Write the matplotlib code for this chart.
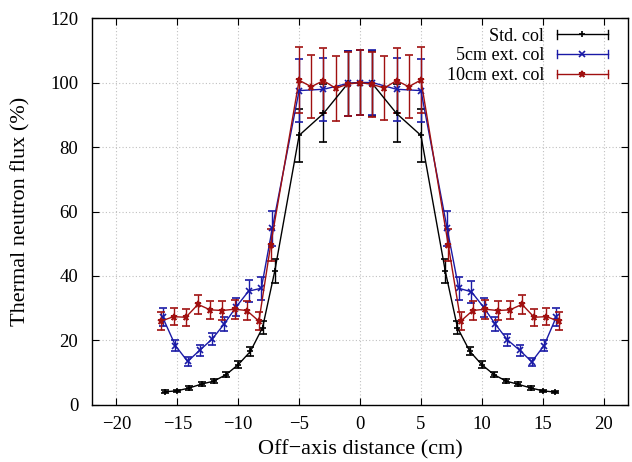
import numpy as np
import matplotlib
matplotlib.use("Agg")
import matplotlib.pyplot as plt
from matplotlib.legend_handler import HandlerBase
from matplotlib.lines import Line2D

plt.rcParams['font.family'] = ['Liberation Serif', 'DejaVu Serif']
plt.rcParams['mathtext.fontset'] = 'stix'

# ---- data ----
x_std = [-16, -15, -14, -13, -12, -11, -10, -9, -8, -7, -5, -3, -1, 0, 1, 3, 5,
         7, 8, 9, 10, 11, 12, 13, 14, 15, 16]
y_std = [4.1, 4.4, 5.3, 6.5, 7.4, 9.4, 12.5, 16.6, 24.0, 41.5, 83.6, 90.4, 99.7, 100.0,
         99.7, 90.4, 83.6, 41.5, 24.0, 16.7, 12.5, 9.4, 7.4, 6.4, 5.3, 4.4, 4.0]
e_std = [0.4, 0.4, 0.5, 0.6, 0.7, 0.8, 1.0, 1.3, 2.0, 3.8, 8.2, 9.0, 10.0, 10.0,
         10.0, 9.0, 8.2, 3.8, 2.0, 1.3, 1.0, 0.8, 0.7, 0.6, 0.5, 0.4, 0.4]

x_5cm = [-16.2, -15.15, -14.15, -13.15, -12.15, -11.15, -10.15, -9.15, -8.1, -7.2,
         -5, -3, -1, 0, 1, 3, 5,
         7.15, 8.1, 9.15, 10.15, 11.1, 12.1, 13.1, 14.1, 15.1, 16.1]
y_5cm = [27.2, 18.4, 13.5, 17.0, 20.4, 25.1, 30.5, 35.3, 36.2, 54.8,
         97.5, 97.9, 99.7, 100.0, 100.0, 97.9, 97.5,
         54.8, 36.2, 35.1, 30.3, 25.1, 20.2, 17.0, 13.4, 18.4, 27.2]
e_5cm = [2.8, 1.6, 1.3, 1.7, 1.8, 2.3, 2.8, 3.4, 3.6, 5.5,
         9.7, 9.8, 10.0, 10.0, 10.0, 9.8, 9.7,
         5.5, 3.6, 3.5, 3.0, 2.3, 1.8, 1.7, 1.3, 1.8, 2.8]

x_10cm = [-16.35, -15.3, -14.3, -13.3, -12.3, -11.3, -10.3, -9.3, -8.3, -7.34,
          -5, -4, -3, -2, -1, 0, 1, 2, 3, 4, 5,
          7.25, 8.27, 9.25, 10.26, 11.3, 12.3, 13.3, 14.3, 15.3, 16.3]
y_10cm = [26.0, 27.4, 27.2, 31.2, 29.5, 29.3, 29.7, 29.3, 26.0, 49.5,
          100.7, 98.7, 100.6, 98.2, 99.5, 100.0, 99.4, 98.3, 100.6, 98.7, 100.8,
          49.5, 26.0, 29.3, 29.7, 29.3, 29.5, 31.2, 27.2, 27.4, 26.0]
e_10cm = [2.7, 2.7, 2.7, 3.0, 2.8, 2.8, 3.0, 2.8, 2.8, 5.0,
          10.3, 9.8, 10.0, 10.0, 10.0, 10.0, 10.0, 10.0, 10.0, 9.8, 10.3,
          5.0, 2.8, 2.8, 3.0, 2.8, 2.8, 3.0, 2.7, 2.7, 2.7]

labels = ['Std. col', '5cm ext. col', '10cm ext. col']
colors = ['#000000', '#1a1aa6', '#a01010']
markers = ['+', 'x', '*']

fig = plt.figure(figsize=(6.32, 4.62), dpi=100)
ax = fig.add_axes([0.1456, 0.1234, 0.8481, 0.8376])

series = [(x_std, y_std, e_std), (x_5cm, y_5cm, e_5cm), (x_10cm, y_10cm, e_10cm)]
for (xs, ys, es), c, m in zip(series, colors, markers):
    ax.errorbar(xs, ys, yerr=es, color=c, marker=m, markersize=5, lw=1.0,
                elinewidth=1.0, capsize=3, capthick=1.0, mew=1.2, zorder=3)


class HandlerGnuplot(HandlerBase):
    def __init__(self, color, marker):
        super().__init__()
        self.color = color
        self.marker = marker

    def create_artists(self, legend, orig_handle, xdescent, ydescent, width, height,
                       fontsize, trans):
        y = height / 2 - ydescent
        x0 = -xdescent
        x1 = -xdescent + width
        cap = 3.0
        line = Line2D([x0, x1], [y, y], color=self.color, lw=1.0, transform=trans)
        c1 = Line2D([x0, x0], [y - cap, y + cap], color=self.color, lw=1.0, transform=trans)
        c2 = Line2D([x1, x1], [y - cap, y + cap], color=self.color, lw=1.0, transform=trans)
        mk = Line2D([(x0 + x1) / 2], [y], color=self.color, marker=self.marker,
                    markersize=5, mew=1.2, ls='none', transform=trans)
        return [line, c1, c2, mk]


handles = [Line2D([], [], color=c) for c in colors]
hmap = {h: HandlerGnuplot(c, m) for h, c, m in zip(handles, colors, markers)}
ax.legend(handles, labels, handler_map=hmap, loc='upper right', frameon=False,
          markerfirst=False, fontsize=13, handlelength=2.85, handletextpad=0.7,
          labelspacing=0.15, borderpad=0, borderaxespad=0,
          bbox_to_anchor=(0.963, 0.975))

ax.set_xlim(-22, 22)
ax.set_ylim(0, 120)
ax.set_xticks([-20, -15, -10, -5, 0, 5, 10, 15, 20])
ax.set_xticklabels(['\u221220', '\u221215', '\u221210', '\u22125', '0', '5', '10', '15', '20'])
ax.set_yticks([0, 20, 40, 60, 80, 100, 120])
ax.tick_params(direction='in', top=True, right=True, labelsize=13.5, length=5)
ax.tick_params(axis='y', pad=10)
ax.tick_params(axis='x', pad=8)
ax.grid(True, linestyle=(0, (1, 2)), color='#c0c0c0', lw=0.8)
ax.set_axisbelow(True)
for s in ax.spines.values():
    s.set_linewidth(1.0)

ax.set_xlabel('Off\u2212axis distance (cm)', fontsize=16, labelpad=5)
ax.set_ylabel('Thermal neutron flux (%)', fontsize=16, labelpad=14)

fig.savefig('out.png', dpi=100)
